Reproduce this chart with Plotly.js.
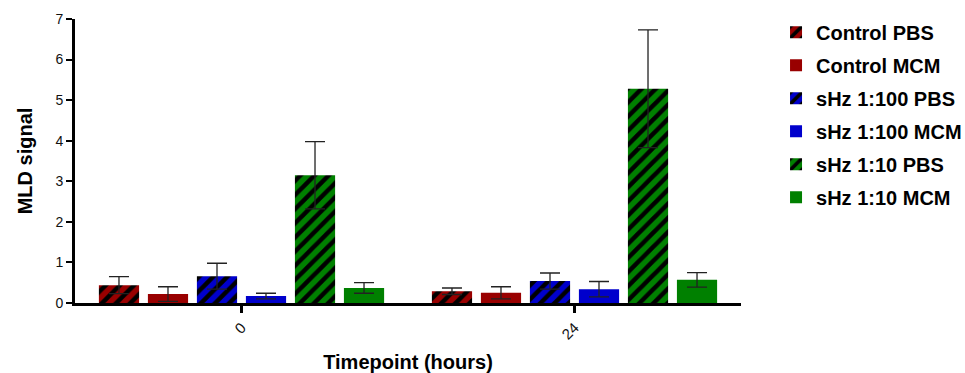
<!DOCTYPE html>
<html>
<head>
<meta charset="utf-8">
<script src="https://cdn.plot.ly/plotly-3.0.1.min.js"></script>
<style>html,body{margin:0;padding:0;background:#fff;}#chart{width:965px;height:373px;}</style>
</head>
<body>
<div id="chart"></div>
<script>
var categories = ['0', '24'];
var seriesNames = ['Control PBS', 'Control MCM', 'sHz 1:100 PBS', 'sHz 1:100 MCM', 'sHz 1:10 PBS', 'sHz 1:10 MCM'];
var controlPBS = [0.44, 0.29];
var controlPBSErr = [0.21, 0.08];
var controlMCM = [0.22, 0.25];
var controlMCMErr = [0.18, 0.15];
var sHz100PBS = [0.66, 0.54];
var sHz100PBSErr = [0.32, 0.20];
var sHz100MCM = [0.17, 0.34];
var sHz100MCMErr = [0.07, 0.19];
var sHz10PBS = [3.15, 5.28];
var sHz10PBSErr = [0.83, 1.45];
var sHz10MCM = [0.37, 0.57];
var sHz10MCMErr = [0.13, 0.18];

var values = [controlPBS, controlMCM, sHz100PBS, sHz100MCM, sHz10PBS, sHz10MCM];
var errors = [controlPBSErr, controlMCMErr, sHz100PBSErr, sHz100MCMErr, sHz10PBSErr, sHz10MCMErr];
var colors = ['#990000', '#990000', '#0000cc', '#0000cc', '#008000', '#008000'];
var hatched = [true, false, true, false, true, false];

var FONT = 'Liberation Sans, Arial, sans-serif';

var traces = seriesNames.map(function (name, i) {
  var marker = { color: colors[i], line: { width: 0 } };
  if (hatched[i]) {
    marker.pattern = { shape: '/', fgcolor: '#000000', bgcolor: colors[i], size: 10, solidity: 0.45 };
  }
  return {
    type: 'bar',
    name: name,
    x: categories,
    y: values[i],
    marker: marker,
    legendgroup: 'g' + i,
    error_y: { type: 'data', array: errors[i], visible: true, color: '#222222', thickness: 1.3, width: 10 }
  };
});

var layout = {
  width: 965,
  height: 373,
  margin: { l: 75, r: 224, t: 19, b: 70, pad: 0, autoexpand: false },
  paper_bgcolor: '#ffffff',
  plot_bgcolor: '#ffffff',
  barmode: 'group',
  bargap: 0.117,
  bargroupgap: 0.18,
  font: { family: FONT, color: '#000000' },
  showlegend: true,
  legend: {
    x: 1.0526, y: 1.022, xanchor: 'left', yanchor: 'top',
    font: { family: FONT, size: 20, weight: 'bold', color: '#000000' },
    tracegroupgap: 4,
    maxheight: 1000,
    bgcolor: 'rgba(0,0,0,0)'
  },
  xaxis: {
    type: 'category',
    range: [-0.5, 1.5],
    showgrid: false,
    zeroline: false,
    showline: true,
    linecolor: '#000000',
    linewidth: 3,
    ticks: 'outside',
    ticklen: 7,
    tickwidth: 3,
    tickcolor: '#000000',
    tickangle: -45,
    tickfont: { family: FONT, size: 15, color: '#111111' },
    title: { text: 'Timepoint (hours)', font: { family: FONT, size: 20, weight: 'bold', color: '#000000' }, standoff: 16 }
  },
  yaxis: {
    range: [0, 7],
    dtick: 1,
    showgrid: false,
    zeroline: false,
    showline: true,
    linecolor: '#000000',
    linewidth: 3,
    ticks: 'outside',
    ticklen: 6,
    tickwidth: 2,
    tickcolor: '#000000',
    tickfont: { family: FONT, size: 14, color: '#111111' },
    title: { text: 'MLD signal', font: { family: FONT, size: 20, weight: 'bold', color: '#000000' }, standoff: 18 }
  }
};

Plotly.newPlot('chart', traces, layout, { staticPlot: true, displayModeBar: false });
</script>
</body>
</html>
